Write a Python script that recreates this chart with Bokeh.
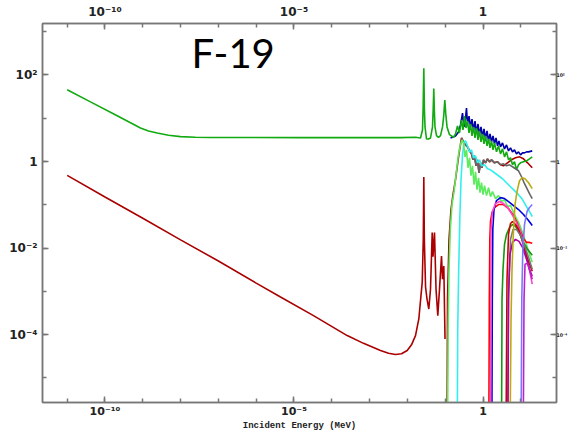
import numpy as np
from bokeh.plotting import figure
from bokeh.models import FixedTicker, LogAxis, Label, CustomJSTickFormatter, Range1d
from bokeh.embed import file_html
from bokeh.resources import INLINE

# ---------------- data (log10 of energy in MeV, log10 of cross section in barns) ----------------
title_text = "F-19"
x_label_text = "Incident Energy (MeV)"
x_major_ticks = [1e-10, 1e-5, 1.0]
x_minor_ticks = [1e-11, 1e-10, 1e-9, 1e-8, 1e-7, 1e-6, 1e-5, 1e-4, 1e-3, 1e-2, 1e-1, 1.0, 1e1]
y_major_ticks = [1e-4, 1e-2, 1.0, 1e2]
y_minor_ticks = [1e-5, 1e-4, 1e-3, 1e-2, 1e-1, 1.0, 1e1, 1e2, 1e3]

# dark red hidden/inelastic channel
inel_log_e = [-0.952, -0.939, -0.899, -0.847, -0.794, -0.728, -0.648, -0.569, -0.516, -0.463, -0.410,
              -0.357, -0.304, -0.265, -0.225, -0.185, -0.146, -0.106, -0.066, -0.026, 0.013, 0.066,
              0.119, 0.172, 0.225, 0.304, 0.384, 0.463, 0.542, 0.648, 0.754, 0.860, 0.966, 1.071,
              1.177, 1.302]
inel_log_xs = [-6.5, -3.18, -1.80, -1.11, -0.766, -0.421, 0.10, 0.545, 0.453, 0.384, 0.338,
               0.246, 0.177, 0.039, 0.131, -0.099, 0.039, -0.260, -0.030, -0.145, 0.039, -0.030,
               0.062, -0.007, 0.039, -0.030, -0.007, -0.076, -0.099, -0.030, 0.039, 0.085, 0.108, 0.062,
               -0.030, -0.145]

# total (dark blue)
total_log_e = [-0.860, -0.728, -0.648, -0.595, -0.542, -0.503, -0.463, -0.437, -0.410, -0.370, -0.331,
               -0.291, -0.251, -0.212, -0.172, -0.132, -0.093, -0.053, -0.013, 0.026, 0.066, 0.106,
               0.146, 0.185, 0.225, 0.265, 0.304, 0.344, 0.384, 0.423, 0.463, 0.516, 0.569, 0.622,
               0.675, 0.728, 0.780, 0.833, 0.886, 0.939, 0.992, 1.045, 1.098, 1.151, 1.204, 1.302]
total_log_xs = [0.545, 0.591, 0.683, 0.844, 1.120, 0.798, 1.005, 1.234, 0.867, 1.051, 0.798,
                0.982, 0.706, 0.936, 0.660, 0.867, 0.614, 0.798, 0.568, 0.752, 0.522, 0.706,
                0.476, 0.637, 0.453, 0.591, 0.407, 0.545, 0.361, 0.476, 0.338, 0.430, 0.292, 0.384,
                0.246, 0.315, 0.223, 0.269, 0.177, 0.223, 0.154, 0.200, 0.200, 0.223, 0.223, 0.246]

# elastic (green)
elastic_log_e = [-11.0, -10.384, -9.677, -9.061, -8.849, -8.619, -8.320, -8.003, -7.606, -7.209, -4.828,
                 -2.183, -1.786, -1.653,
                 -1.601, -1.585, -1.566, -1.550, -1.534, -1.495, -1.442, -1.389, -1.336, -1.318, -1.302,
                 -1.286, -1.270, -1.230, -1.177, -1.124, -1.071, -1.040, -1.011, -0.985, -0.952, -0.886,
                 -0.780, -0.728, -0.675, -0.622, -0.569, -0.529, -0.489, -0.450, -0.410, -0.370, -0.331,
                 -0.291, -0.251, -0.212, -0.172, -0.132, -0.093, -0.053, -0.013, 0.026, 0.066, 0.106,
                 0.146, 0.185, 0.225, 0.265, 0.304, 0.357, 0.410, 0.463, 0.516, 0.569, 0.622, 0.675,
                 0.728, 0.780, 0.833, 0.886, 0.939, 0.992, 1.071, 1.151, 1.230, 1.302]
elastic_log_xs = [1.66, 1.379, 1.057, 0.775, 0.706, 0.660, 0.607, 0.575, 0.561, 0.556, 0.552,
                  0.552, 0.56, 0.545,
                  0.729, 1.2, 2.154, 1.2, 0.80, 0.52, 0.52, 0.545, 0.80, 1.2, 1.687,
                  1.15, 0.80, 0.60, 0.56, 0.60, 0.80, 1.05, 1.418, 1.10, 0.80, 0.62,
                  0.56, 0.637, 0.821, 0.660, 0.959, 0.729, 1.051, 0.775, 0.936, 0.660, 0.867,
                  0.591, 0.798, 0.545, 0.775, 0.499, 0.706, 0.453, 0.637, 0.407, 0.591, 0.361,
                  0.522, 0.315, 0.476, 0.269, 0.430, 0.223, 0.361, 0.177, 0.292, 0.108, 0.223, 0.039,
                  0.085, -0.076, -0.007, -0.191, -0.076, -0.030, -0.007, 0.016, 0.062, 0.108]

# gray channel
gray_log_e = [-0.569, -0.516, -0.463, -0.410, -0.357, -0.304, -0.265, -0.225, -0.185, -0.146, -0.106,
              -0.066, -0.026, 0.013, 0.066, 0.119, 0.172, 0.225, 0.304, 0.384, 0.463, 0.542, 0.622,
              0.701, 0.780, 0.860, 0.939, 1.019, 1.098, 1.177, 1.243, 1.302]
gray_log_xs = [0.545, 0.453, 0.384, 0.338, 0.246, 0.177, 0.039, 0.131, -0.099, 0.039, -0.260,
               -0.030, -0.145, 0.039, -0.030, 0.062, -0.007, 0.039, -0.030, -0.007, -0.076, -0.053, -0.099,
               -0.076, -0.122, -0.168, -0.214, -0.352, -0.513, -0.651, -0.766, -0.857]

# cyan channel
cyan_log_e = [-0.683, -0.669, -0.643, -0.614, -0.582, -0.542, -0.503, -0.463, -0.410, -0.357, -0.304,
              -0.251, -0.198, -0.146, -0.093, -0.040, 0.040, 0.119, 0.198, 0.304, 0.410, 0.516, 0.622,
              0.728, 0.833, 0.939, 1.045, 1.151, 1.230, 1.302]
cyan_log_xs = [-6.5, -3.869, -2.49, -1.34, -0.421, 0.154, 0.453, 0.476, 0.361, 0.223, 0.269,
               0.085, 0.131, -0.030, 0.039, -0.099, -0.076, -0.168, -0.191, -0.260, -0.329, -0.398, -0.490,
               -0.582, -0.674, -0.766, -0.880, -1.041, -1.156, -1.271]

# light green channel
lime_log_e = [-0.939, -0.923, -0.899, -0.865, -0.820, -0.767, -0.714, -0.661, -0.608, -0.556, -0.516,
              -0.476, -0.437, -0.397, -0.357, -0.317, -0.278, -0.238, -0.198, -0.159, -0.119, -0.079,
              -0.040, 0.000, 0.040, 0.093, 0.146, 0.198, 0.251, 0.331, 0.410, 0.489, 0.569, 0.648,
              0.728, 0.807, 0.886, 0.966, 1.045, 1.124, 1.204, 1.302]
lime_log_xs = [-6.5, -3.869, -2.490, -1.570, -0.995, -0.697, -0.306, 0.085, 0.361, 0.499, 0.430,
               0.108, 0.269, -0.145, 0.085, -0.329, -0.099, -0.536, -0.237, -0.651, -0.375, -0.720,
               -0.490, -0.766, -0.559, -0.789, -0.605, -0.812, -0.697, -0.857, -0.789, -0.926, -0.880, -1.041,
               -1.018, -1.179, -1.317, -1.455, -1.639, -1.846, -2.076, -2.329]

# capture (dark red)
capture_log_e = [-11.0, -10.0, -9.0, -8.0, -7.0, -6.0, -5.357, -4.484, -3.593, -3.161, -2.712, -2.500,
                 -2.315, -2.156, -2.005, -1.892,
                 -1.786, -1.698, -1.608, -1.580, -1.566, -1.552, -1.520, -1.481, -1.434, -1.389, -1.344,
                 -1.323, -1.283, -1.243, -1.196, -1.151, -1.098, -1.071, -1.037, -1.005]
capture_log_xs = [-0.32, -0.82, -1.31, -1.81, -2.30, -2.81, -3.133, -3.563, -4.023, -4.203, -4.368, -4.432,
                  -4.460, -4.444, -4.368, -4.237,
                  -4.023, -3.639, -2.789, -1.8, -0.359, -1.8, -2.9, -3.18, -3.409, -2.95, -1.639,
                  -2.2, -1.639, -2.95, -3.563, -2.95, -2.184, -2.72, -2.414, -4.1]

# red channel
red_log_e = [0.153, 0.167, 0.180, 0.198, 0.238, 0.304, 0.410, 0.542, 0.675, 0.807, 0.913, 0.992,
             1.071, 1.151, 1.230, 1.302]
red_log_xs = [-6.5, -3.179, -1.800, -1.386, -1.179, -1.064, -0.995, -0.995, -1.087, -1.248, -1.432, -1.616,
              -1.777, -1.869, -1.869, -1.892]

# medium blue channel
blue_log_e = [0.233, 0.246, 0.259, 0.291, 0.357, 0.463, 0.569, 0.675, 0.807, 0.939, 1.071, 1.204, 1.302]
blue_log_xs = [-6.5, -3.179, -1.570, -1.110, -0.903, -0.835, -0.857, -0.926, -1.018, -1.110, -1.225,
               -1.364, -1.478]

# pink channel
pink_log_e = [0.198, 0.212, 0.251, 0.331, 0.437, 0.542, 0.648, 0.754, 0.860, 0.966, 1.071, 1.177, 1.302]
pink_log_xs = [-6.5, -1.570, -1.156, -0.972, -0.926, -0.972, -1.064, -1.202, -1.364, -1.570, -1.869,
               -2.260, -2.834]

# second green channel
green2_log_e = [0.489, 0.503, 0.529, 0.569, 0.622, 0.701, 0.780, 0.860, 0.966, 1.071, 1.177, 1.302]
green2_log_xs = [-6.5, -3.179, -2.490, -1.915, -1.685, -1.524, -1.455, -1.501, -1.662, -1.869, -2.030,
                 -2.168]

# second dark red channel
darkred2_log_e = [0.608, 0.635, 0.675, 0.728, 0.780, 0.860, 0.939, 1.019, 1.098, 1.204, 1.302]
darkred2_log_xs = [-6.5, -2.720, -1.685, -1.432, -1.386, -1.455, -1.570, -1.777, -2.030, -2.306, -2.536]

# second gray channel
gray2_log_e = [0.648, 0.675, 0.728, 0.794, 0.886, 0.992, 1.098, 1.204, 1.302]
gray2_log_xs = [-6.5, -2.949, -1.800, -1.570, -1.570, -1.708, -1.938, -2.214, -2.490]

# purple channel
purple_log_e = [0.656, 0.675, 0.714, 0.780, 0.860, 0.952, 1.045, 1.151, 1.230, 1.302]
purple_log_xs = [-6.5, -3.179, -2.145, -1.869, -1.800, -1.846, -1.984, -2.260, -2.490, -2.651]

# olive channel
olive_log_e = [0.714, 0.741, 0.767, 0.807, 0.847, 0.899, 0.966, 1.032, 1.111, 1.204, 1.302]
olive_log_xs = [-6.5, -3.639, -2.490, -1.570, -0.995, -0.697, -0.444, -0.375, -0.398, -0.490, -0.628]

# periwinkle channel
peri_log_e = [1.005, 1.026, 1.053, 1.098, 1.164, 1.230, 1.302]
peri_log_xs = [-6.5, -3.179, -2.030, -1.455, -1.156, -1.064, -0.995]

# second purple channel
purple2_log_e = [1.063, 1.085, 1.111, 1.177, 1.302]
purple2_log_xs = [-6.5, -3.179, -2.375, -2.352, -2.720]

# ---------------- figure ----------------
AX = "#777777"
TICK_FONT = "DejaVu Sans"

p = figure(width=570, height=433, x_axis_type="log", y_axis_type="log",
           x_range=Range1d(10 ** -11.653, 10 ** 1.944), y_range=Range1d(10 ** -5.57, 10 ** 3.19),
           output_backend="svg", toolbar_location=None,
           min_border_left=42, min_border_right=14, min_border_top=23, min_border_bottom=29,
           background_fill_color="white", border_fill_color="white",
           outline_line_color=AX, outline_line_width=1.5)
p.xgrid.visible = False
p.ygrid.visible = False

fmt_code = """
const e = Math.round(Math.log10(tick));
if (e === 0) { return "1"; }
const sup = {"-": "\u207b", "0": "\u2070", "1": "\u00b9", "2": "\u00b2", "3": "\u00b3", "4": "\u2074",
             "5": "\u2075", "6": "\u2076", "7": "\u2077", "8": "\u2078", "9": "\u2079"};
let s = "";
for (const c of String(e)) { s += sup[c]; }
return "10" + s;
"""


def style_axis(ax, major, minor, font=TICK_FONT, size="12px", standoff=5):
    ax.ticker = FixedTicker(ticks=major, minor_ticks=minor)
    ax.major_tick_in = 6
    ax.major_tick_out = 0
    ax.minor_tick_in = 4
    ax.minor_tick_out = 0
    ax.axis_line_color = AX
    ax.axis_line_width = 1.5
    ax.major_tick_line_color = AX
    ax.minor_tick_line_color = AX
    ax.major_tick_line_width = 1.5
    ax.minor_tick_line_width = 1.5
    ax.formatter = CustomJSTickFormatter(code=fmt_code)
    ax.major_label_text_font = font
    ax.major_label_text_font_style = "bold"
    ax.major_label_text_font_size = size
    ax.major_label_text_color = "#222222"
    ax.major_label_standoff = standoff


style_axis(p.xaxis[0], x_major_ticks, x_minor_ticks, size="11px", standoff=2)
p.xaxis[0].axis_label = x_label_text
p.xaxis[0].axis_label_text_font = "Liberation Mono"
p.xaxis[0].axis_label_text_font_style = "bold"
p.xaxis[0].axis_label_text_font_size = "9px"
p.xaxis[0].axis_label_text_color = "#222222"
p.xaxis[0].axis_label_standoff = 0
style_axis(p.yaxis[0], y_major_ticks, y_minor_ticks)
top_axis = LogAxis()
style_axis(top_axis, x_major_ticks, x_minor_ticks)
p.add_layout(top_axis, "above")
right_axis = LogAxis()
style_axis(right_axis, y_major_ticks, y_minor_ticks, font="DejaVu Sans Condensed", size="5px", standoff=0)
p.add_layout(right_axis, "right")


def draw(le, lxs, color, width=1.6):
    p.line(10.0 ** np.array(le), 10.0 ** np.array(lxs), line_color=color, line_width=width)


draw(inel_log_e, inel_log_xs, "#AA0000")
draw(total_log_e, total_log_xs, "#0000AA")
draw(elastic_log_e, elastic_log_xs, "#11AA11")
draw(gray_log_e, gray_log_xs, "#666666")
draw(cyan_log_e, cyan_log_xs, "#33EEEE")
draw(lime_log_e, lime_log_xs, "#5CEB5C")
draw(capture_log_e, capture_log_xs, "#AA0000")
draw(red_log_e, red_log_xs, "#FF0000")
draw(blue_log_e, blue_log_xs, "#0000DD")
draw(pink_log_e, pink_log_xs, "#FF44CC")
draw(green2_log_e, green2_log_xs, "#119911")
draw(darkred2_log_e, darkred2_log_xs, "#CC0000")
draw(gray2_log_e, gray2_log_xs, "#777777")
draw(purple_log_e, purple_log_xs, "#AA00AA")
draw(olive_log_e, olive_log_xs, "#BBAA11")
draw(peri_log_e, peri_log_xs, "#7777FF")
draw(purple2_log_e, purple2_log_xs, "#BB22CC")

# title inside the plot
p.add_layout(Label(x=149, y=350, x_units="screen", y_units="screen", text=title_text,
                   text_font="Lato", text_font_size="40px", text_color="black",
                   text_baseline="alphabetic", text_align="left"))

open("out.html", "w").write(file_html(p, INLINE))
